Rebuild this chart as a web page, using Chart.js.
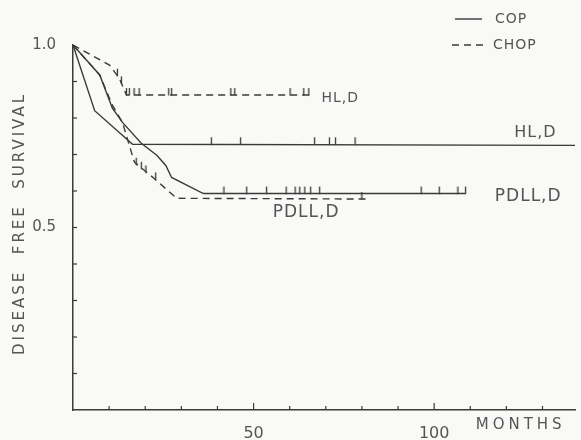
<!DOCTYPE html>
<html>
<head>
<meta charset="utf-8">
<script src="https://cdn.jsdelivr.net/npm/chart.js@4.4.1/dist/chart.umd.min.js"></script>
<style>
  html, body { margin: 0; padding: 0; background: #f9f9f7; }
  #wrap { width: 581px; height: 440px; position: relative; }
</style>
</head>
<body>
<div id="wrap"><canvas id="km"></canvas></div>
<script>
// months and disease free survival
const hlCopT = [0, 6, 16.5, 139];
const hlCopS = [1.0, 0.82, 0.728, 0.725];
const pdllCopT = [0, 7.4, 10.9, 13.7, 18.9, 23.2, 25.7, 27.3, 36.1, 108.7];
const pdllCopS = [1.0, 0.918, 0.827, 0.788, 0.731, 0.698, 0.670, 0.637, 0.593, 0.593];
const hlChopT = [0, 10.1, 12.8, 14.8, 65.6];
const hlChopS = [1.0, 0.945, 0.909, 0.863, 0.863];
const pdllChopT = [0, 7.4, 10.9, 13.7, 15.6, 17.0, 22.4, 28.7, 81.0];
const pdllChopS = [1.0, 0.918, 0.835, 0.788, 0.725, 0.679, 0.635, 0.58, 0.578];

// censored patients (tick marks)
const hlCopCensT = [38.3, 46.4, 66.9, 71.0, 72.7, 78.1];
const hlCopCensS = [0.728, 0.728, 0.728, 0.728, 0.728, 0.728];
const pdllCopCensT = [41.8, 48.1, 53.6, 59.0, 61.5, 62.8, 64.2, 65.8, 68.3, 96.4, 101.4, 106.6, 108.7];
const pdllCopCensS = [0.593, 0.593, 0.593, 0.593, 0.593, 0.593, 0.593, 0.593, 0.593, 0.593, 0.593, 0.593, 0.593];
const hlChopCensT = [12.3, 13.4, 14.8, 15.6, 16.9, 18.3, 26.5, 27.3, 43.7, 44.8, 60.1, 63.9, 65.3];
const hlChopCensS = [0.916, 0.895, 0.863, 0.863, 0.863, 0.863, 0.863, 0.863, 0.863, 0.863, 0.863, 0.863, 0.863];
const pdllChopCensT = [17.5, 18.9, 20.2, 22.9, 80.0];
const pdllChopCensS = [0.672, 0.661, 0.651, 0.632, 0.578];

const xTicks = [10, 20, 30, 40, 50, 60, 70, 80, 90, 100, 110, 120, 130];
const xLabelled = [50, 100];
const yTicks = [0.1, 0.2, 0.3, 0.4, 0.5, 0.6, 0.7, 0.8, 0.9];
const yLabelled = { '0.5': '0.5', '1.0': '1.0' };

// curve labels: [text, month, survival, font size]
const curveLabels = [
  ['HL,D', 68.8, 0.855, 14],
  ['HL,D', 122.2, 0.76, 16],
  ['PDLL,D', 116.8, 0.585, 17],
  ['PDLL,D', 55.3, 0.54, 17]
];

const ink = '#3a3a3a';
const textInk = '#555';
const FONT = '"DejaVu Sans", sans-serif';

function pts(t, s) { return t.map((v, i) => ({ x: v, y: s[i] })); }

// small upward tick used as point style for censored cases
const tick = document.createElement('canvas');
tick.width = 3; tick.height = 16;
(function () {
  const c = tick.getContext('2d');
  c.strokeStyle = ink; c.lineWidth = 1.3;
  c.beginPath(); c.moveTo(1.5, 1); c.lineTo(1.5, 8.5); c.stroke();
})();

function curve(label, t, s, dashed) {
  return {
    label: label, data: pts(t, s), showLine: true, borderColor: ink,
    borderWidth: 1.4, borderDash: dashed ? [7, 5] : [], pointRadius: 0, tension: 0
  };
}
function cens(label, t, s) {
  return { label: label, data: pts(t, s), pointStyle: tick, pointRadius: 3, showLine: false };
}

const decor = {
  id: 'decor',
  afterDraw(chart) {
    const ctx = chart.ctx;
    const xs = chart.scales.x, ys = chart.scales.y;
    const a = chart.chartArea;
    ctx.save();
    ctx.strokeStyle = ink;
    ctx.lineWidth = 1.2;
    // inward tick marks
    xTicks.forEach(v => {
      const px = xs.getPixelForValue(v);
      const len = xLabelled.includes(v) ? 7 : 4;
      ctx.beginPath(); ctx.moveTo(px, a.bottom); ctx.lineTo(px, a.bottom - len); ctx.stroke();
    });
    yTicks.forEach(v => {
      const py = ys.getPixelForValue(v);
      ctx.beginPath(); ctx.moveTo(a.left, py); ctx.lineTo(a.left + 4, py); ctx.stroke();
    });

    ctx.fillStyle = textInk;
    ctx.textBaseline = 'middle';

    // curve labels
    curveLabels.forEach(([txt, m, s, size]) => {
      ctx.font = size + 'px ' + FONT;
      ctx.textAlign = 'left';
      ctx.letterSpacing = '1px';
      ctx.fillText(txt, xs.getPixelForValue(m), ys.getPixelForValue(s));
    });

    // MONTHS
    ctx.font = '15px ' + FONT;
    ctx.letterSpacing = '4px';
    ctx.textAlign = 'left';
    ctx.fillText('MONTHS', xs.getPixelForValue(111.5), a.bottom + 15);

    // y title
    const title = 'DISEASE  FREE  SURVIVAL';
    ctx.font = '15px ' + FONT;
    ctx.letterSpacing = '0px';
    const w0 = ctx.measureText(title).width;
    const sp = (260 - w0) / (title.length - 1);
    ctx.letterSpacing = sp.toFixed(2) + 'px';
    ctx.translate(20, 225);
    ctx.rotate(-Math.PI / 2);
    ctx.textAlign = 'center';
    ctx.fillText(title, sp / 2, 0);
    ctx.setTransform(1, 0, 0, 1, 0, 0);

    // legend
    ctx.letterSpacing = '1px';
    ctx.font = '14px ' + FONT;
    ctx.textAlign = 'left';
    ctx.lineWidth = 1.4;
    ctx.beginPath(); ctx.moveTo(455, 19); ctx.lineTo(482, 19); ctx.stroke();
    ctx.fillText('COP', 495, 19);
    ctx.setLineDash([7, 5]);
    ctx.beginPath(); ctx.moveTo(452, 45); ctx.lineTo(484, 45); ctx.stroke();
    ctx.setLineDash([]);
    ctx.fillText('CHOP', 493, 45);
    ctx.restore();
  }
};

new Chart(document.getElementById('km'), {
  type: 'scatter',
  data: {
    datasets: [
      curve('HL,D COP', hlCopT, hlCopS, false),
      curve('PDLL,D COP', pdllCopT, pdllCopS, false),
      curve('HL,D CHOP', hlChopT, hlChopS, true),
      curve('PDLL,D CHOP', pdllChopT, pdllChopS, true),
      cens('HL,D COP censored', hlCopCensT, hlCopCensS),
      cens('PDLL,D COP censored', pdllCopCensT, pdllCopCensS),
      cens('HL,D CHOP censored', hlChopCensT, hlChopCensS),
      cens('PDLL,D CHOP censored', pdllChopCensT, pdllChopCensS)
    ]
  },
  options: {
    responsive: true,
    maintainAspectRatio: false,
    animation: false,
    layout: { padding: { top: 45, right: 0, bottom: 0, left: 0 } },
    plugins: { legend: { display: false }, tooltip: { enabled: false } },
    scales: {
      x: {
        type: 'linear', min: 0, max: 139,
        afterFit(s) { s.height = 30; },
        grid: { display: false },
        border: { display: true, color: ink, width: 1.5 },
        ticks: {
          stepSize: 10, autoSkip: false, maxRotation: 0, padding: 6,
          color: textInk, font: { family: FONT, size: 16 },
          callback: v => xLabelled.includes(v) ? String(v) : ''
        }
      },
      y: {
        min: 0, max: 1,
        afterFit(s) { s.width = 73; },
        grid: { display: false },
        border: { display: true, color: ink, width: 1.5 },
        ticks: {
          stepSize: 0.1, autoSkip: false, padding: 9,
          color: textInk, font: { family: FONT, size: 15 },
          callback: v => yLabelled[v.toFixed(1)] || ''
        }
      }
    }
  },
  plugins: [decor]
});
</script>
</body>
</html>
